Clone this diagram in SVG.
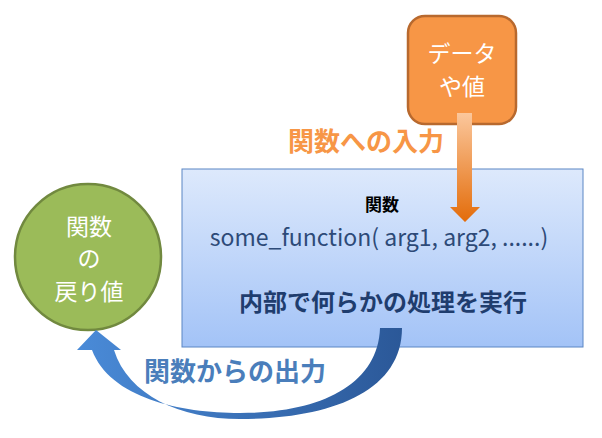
<svg xmlns="http://www.w3.org/2000/svg" width="602" height="438" viewBox="0 0 602 438">
<defs>
<linearGradient id="gBox" x1="0" y1="0" x2="0" y2="1"><stop offset="0" stop-color="#dde9fc"/><stop offset="1" stop-color="#a3c3f7"/></linearGradient>
<linearGradient id="gIn" x1="0" y1="0" x2="0" y2="1"><stop offset="0" stop-color="#fbc79c"/><stop offset="1" stop-color="#e36c0a"/></linearGradient>
<linearGradient id="gOut" x1="0" y1="0" x2="1" y2="0"><stop offset="0" stop-color="#4a8bd8"/><stop offset="1" stop-color="#2b5898"/></linearGradient>
<style>
text{font-family:"Noto Sans CJK JP","Noto Sans",sans-serif;text-anchor:middle}
.b{font-weight:bold}
</style>
</defs>
<g id="func">
<rect x="182" y="169" width="401" height="178" fill="url(#gBox)" stroke="#5b86c4" stroke-width="1"/>
<text x="382" y="211" class="b" font-size="17" fill="#000">関数</text>
<text x="379" y="246" font-size="23" fill="#2d4a78" font-family="'Open Sans',sans-serif">some_function( arg1, arg2, ......)</text>
<text x="383" y="311" class="b" font-size="24" fill="#1f3d6e">内部で何らかの処理を実行</text>
</g>
<g id="data">
<rect x="408" y="16" width="108" height="108" rx="17" fill="#f79646" stroke="#b8692e" stroke-width="2.5"/>
<text x="462" y="62" font-size="23" fill="#fff">データ</text>
<text x="462" y="95" font-size="23" fill="#fff">や値</text>
</g>
<g id="ret">
<circle cx="88" cy="257" r="73" fill="#9bbb59" stroke="#71893f" stroke-width="2.5"/>
<text x="89" y="235" font-size="23" fill="#fff">関数</text>
<text x="89" y="267" font-size="23" fill="#fff">の</text>
<text x="89" y="300" font-size="23" fill="#fff">戻り値</text>
</g>
<g id="connectors">
<path d="M457,113 H472 V207 H480 L465,222 L450,207 H457 Z" fill="url(#gIn)"/>
<text x="366" y="151" class="b" font-size="26" fill="#f79646">関数への入力</text>
<path d="M402,328 C402,392 330,419 240,419 C180,419 128,395 114,350 L121,350 L96,330 L77,350 L92,350 C110,398 180,413 240,413 C320,413 378,385 380,328 Z" fill="url(#gOut)"/>
<text x="235" y="381" class="b" font-size="26" fill="#4a7ebb">関数からの出力</text>
</g>
</svg>
